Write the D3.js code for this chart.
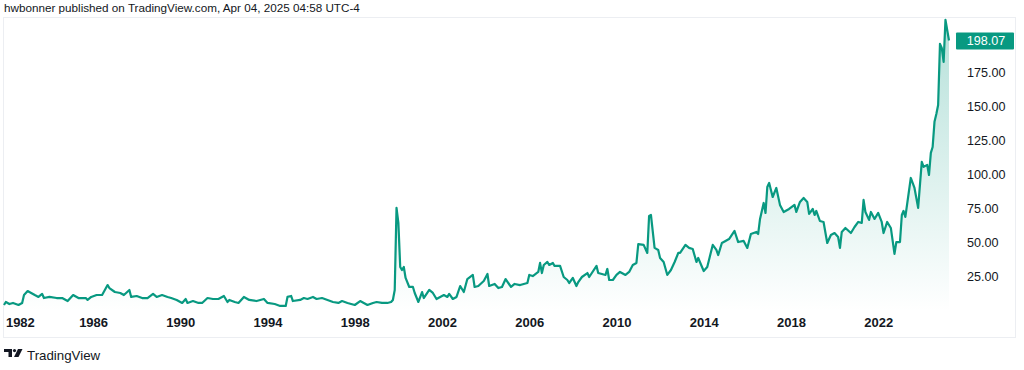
<!DOCTYPE html>
<html lang="en">
<head>
    <meta charset="UTF-8">
    <title>TradingView chart</title>
    <script src="https://d3js.org/d3.v7.min.js"></script>
    <style>
        body { margin: 0; background: #fff; }
        svg { display: block; font-family: "Liberation Sans", Arial, sans-serif; }
        .header { font-size: 11.7px; fill: #131722; }
        .price-axis text { font-size: 12.6px; fill: #131722; }
        .time-axis text { font-size: 13px; font-weight: bold; fill: #131722; }
        .frame { fill: none; stroke: #eceef2; stroke-width: 1px; }
    </style>
</head>
<body>
<svg width="1024" height="370"></svg>
<script>
    // monthly closes
    const months = [
        "1981-12", "1982-01", "1982-03", "1982-05", "1982-08", "1982-10", "1982-11",
        "1983-01", "1983-03", "1983-05", "1983-07", "1983-09", "1983-10",
        "1984-01", "1984-05", "1984-08", "1984-11",
        "1985-02", "1985-05", "1985-09", "1985-10", "1985-12",
        "1986-03", "1986-06", "1986-09", "1986-10",
        "1987-01", "1987-04", "1987-06", "1987-09", "1987-10",
        "1988-01", "1988-04", "1988-07", "1988-10", "1988-12",
        "1989-03", "1989-06", "1989-08", "1989-11",
        "1990-02", "1990-04", "1990-05", "1990-08", "1990-11",
        "1991-01", "1991-04", "1991-07", "1991-10",
        "1992-01", "1992-03", "1992-04", "1992-07", "1992-09", "1992-12",
        "1993-03", "1993-07", "1993-11",
        "1994-01", "1994-05", "1994-08", "1994-11", "1994-12",
        "1995-02", "1995-03", "1995-07", "1995-09", "1995-11",
        "1996-02", "1996-04", "1996-07", "1996-10",
        "1997-01", "1997-04", "1997-06", "1997-09",
        "1998-01", "1998-04", "1998-08", "1998-11",
        "1999-01", "1999-04", "1999-07", "1999-09", "1999-10", "1999-11", "1999-12",
        "2000-01", "2000-02", "2000-03", "2000-04", "2000-05", "2000-07", "2000-09", "2000-10", "2000-12",
        "2001-02", "2001-03", "2001-06", "2001-08", "2001-10", "2001-12",
        "2002-02", "2002-04", "2002-05", "2002-07", "2002-09", "2002-11",
        "2003-01", "2003-03", "2003-06", "2003-07", "2003-09", "2003-12",
        "2004-02", "2004-03", "2004-06", "2004-08", "2004-10", "2004-12",
        "2005-03", "2005-05", "2005-08", "2005-12",
        "2006-01", "2006-03", "2006-06", "2006-07", "2006-08", "2006-09", "2006-11", "2006-12",
        "2007-02", "2007-03", "2007-06", "2007-08", "2007-10", "2007-11",
        "2008-01", "2008-03", "2008-04", "2008-06", "2008-09", "2008-10",
        "2009-02", "2009-03", "2009-07", "2009-08", "2009-09", "2009-11",
        "2010-01", "2010-03", "2010-06", "2010-08", "2010-10", "2010-12",
        "2011-01", "2011-04", "2011-06", "2011-07", "2011-08", "2011-10", "2011-12",
        "2012-01", "2012-03", "2012-05", "2012-07", "2012-09", "2012-11", "2012-12",
        "2013-03", "2013-05", "2013-07", "2013-09", "2013-10",
        "2014-01", "2014-03", "2014-06", "2014-08", "2014-09", "2014-11",
        "2015-01", "2015-03", "2015-06", "2015-08", "2015-11",
        "2016-01", "2016-03", "2016-06", "2016-07", "2016-08", "2016-10", "2016-11", "2016-12",
        "2017-01", "2017-03", "2017-05", "2017-07", "2017-09", "2017-12",
        "2018-03", "2018-04", "2018-06", "2018-08", "2018-10", "2018-11",
        "2019-01", "2019-02", "2019-03", "2019-05", "2019-07", "2019-09", "2019-11",
        "2020-01", "2020-03", "2020-04", "2020-05", "2020-07", "2020-10", "2020-12",
        "2021-02", "2021-04", "2021-05", "2021-06", "2021-08", "2021-09", "2021-11",
        "2022-01", "2022-03", "2022-04", "2022-06", "2022-08", "2022-10", "2022-11",
        "2023-01", "2023-02", "2023-03", "2023-04", "2023-07", "2023-09", "2023-11",
        "2024-01", "2024-02", "2024-04", "2024-05", "2024-06", "2024-07", "2024-08", "2024-09", "2024-10", "2024-11", "2024-12",
        "2025-01", "2025-02", "2025-03", "2025-04"
    ];
    const prices = [
        4.4, 6.6, 5.1, 5.9, 4.4, 5.9, 11.7,
        14.6, 13.2, 11.7, 10.3, 12.5, 9.5,
        10.3, 9.5, 9.5, 7.3,
        11.7, 9.5, 9.5, 8.1, 10.3,
        11.7, 11.7, 19.0, 16.8,
        13.9, 13.2, 11.7, 15.4, 10.3,
        11.0, 9.5, 9.5, 12.5, 10.3,
        11.7, 10.3, 9.5, 8.1,
        5.9, 8.8, 5.9, 7.3, 5.9,
        5.9, 9.5, 8.8, 8.8,
        11.0, 6.6, 8.1, 6.6, 5.9, 10.3,
        8.1, 7.3, 8.8,
        5.9, 5.1, 3.7, 3.7, 10.3,
        11.0, 7.3, 8.1, 9.5, 8.8,
        10.3, 8.8, 9.5, 8.1,
        6.6, 5.9, 7.3, 5.9,
        4.4, 7.3, 4.4, 5.9,
        6.6, 5.9, 5.9, 6.6, 8.1, 15.4, 75.5,
        64.5, 32.2, 30.0, 32.2, 24.2, 17.6, 17.6, 13.2, 6.6,
        13.9, 9.5, 15.4, 13.2, 8.8, 10.3,
        11.7, 10.3, 12.5, 8.8, 10.3, 18.3,
        13.9, 23.4, 26.4, 17.6, 18.3, 22.0,
        27.1, 18.3, 19.8, 16.8, 17.6, 23.4,
        17.6, 19.8, 19.0, 20.5,
        26.4, 25.6, 28.6, 35.2, 27.8, 33.7, 35.9, 33.7,
        35.2, 33.0, 33.0, 24.9, 22.7, 20.5,
        24.2, 18.3, 21.2, 24.9, 27.8, 24.9,
        33.0, 27.8, 26.4, 30.8, 22.7, 22.7,
        26.4, 28.6, 26.4, 28.6, 33.7, 35.2,
        49.0, 48.4, 42.5, 69.6, 70.3, 46.2, 44.7,
        38.8, 35.9, 26.4, 30.0, 35.9, 42.5, 42.5,
        48.4, 46.2, 45.4, 35.9, 38.8,
        29.3, 32.2, 48.4, 44.7, 41.0, 49.8,
        51.3, 52.7, 58.6, 50.5, 51.3,
        46.2, 56.4, 57.9, 56.4, 67.4, 79.1, 71.8, 90.8,
        93.8, 83.5, 90.1, 77.7, 72.5, 74.7,
        77.7, 72.5, 79.9, 82.8, 79.9, 71.1,
        74.7, 70.3, 73.3, 65.9, 65.2, 49.8, 55.7,
        57.1, 54.2, 46.2, 57.9, 60.8, 57.1, 61.5,
        65.2, 64.5, 81.3, 72.5, 66.7, 72.5, 67.4,
        71.8, 65.2, 57.1, 65.2, 60.8, 41.8, 50.5,
        50.5, 70.3, 73.3, 68.9, 97.4, 90.1, 75.5,
        109.2, 105.5, 107.0, 99.6, 115.8, 120.1, 138.5, 144.3, 150.9, 195.6, 192.7,
        182.4, 213.2, 205.9, 198.07
    ];
    const priceTicks = [25, 50, 75, 100, 125, 150, 175];
    const yearTicks = [1982, 1986, 1990, 1994, 1998, 2002, 2006, 2010, 2014, 2018, 2022];
    const lastPrice = 198.07;

    const parseMonth = d3.timeParse("%Y-%m");
    const data = months.map((m, i) => ({ date: parseMonth(m), value: prices[i] }));

    const green = "#089981";
    const plot = { left: 3, right: 950, top: 17, bottom: 312 };

    const svg = d3.select("svg");

    const x = d3.scaleTime()
        .domain(d3.extent(data, d => d.date))
        .range([4, 949]);
    const y = d3.scaleLinear()
        .domain([0, 200])
        .range([311, 311 - 200 * 1.3657]);

    // header
    svg.append("text")
        .attr("class", "header")
        .attr("x", 4)
        .attr("y", 12)
        .text("hwbonner published on TradingView.com, Apr 04, 2025 04:58 UTC-4");

    // frame
    svg.append("rect")
        .attr("class", "frame")
        .attr("x", 3.5)
        .attr("y", 17.5)
        .attr("width", 1012)
        .attr("height", 320);

    const defs = svg.append("defs");
    const grad = defs.append("linearGradient")
        .attr("id", "fill")
        .attr("gradientUnits", "userSpaceOnUse")
        .attr("x1", 0).attr("x2", 0)
        .attr("y1", plot.top).attr("y2", plot.bottom);
    grad.append("stop").attr("offset", 0).attr("stop-color", green).attr("stop-opacity", 0.3);
    grad.append("stop").attr("offset", 1).attr("stop-color", green).attr("stop-opacity", 0.0);

    defs.append("clipPath").attr("id", "clip")
        .append("rect")
        .attr("x", plot.left).attr("y", plot.top)
        .attr("width", plot.right - plot.left)
        .attr("height", plot.bottom - plot.top);

    const g = svg.append("g").attr("clip-path", "url(#clip)");

    const area = d3.area()
        .x(d => x(d.date))
        .y0(plot.bottom)
        .y1(d => y(d.value));

    const line = d3.line()
        .x(d => x(d.date))
        .y(d => y(d.value));

    g.append("path")
        .datum(data)
        .attr("fill", "url(#fill)")
        .attr("d", area);

    g.append("path")
        .datum(data)
        .attr("fill", "none")
        .attr("stroke", green)
        .attr("stroke-width", 2.2)
        .attr("stroke-linejoin", "round")
        .attr("d", line);

    // price axis
    const yAxis = svg.append("g")
        .attr("class", "price-axis")
        .attr("transform", "translate(967,0)")
        .call(d3.axisRight(y).tickValues(priceTicks).tickFormat(d3.format(".2f")).tickSize(0).tickPadding(0));
    yAxis.select(".domain").remove();

    // last price label
    svg.append("rect")
        .attr("x", 956)
        .attr("y", y(lastPrice) - 8)
        .attr("width", 58)
        .attr("height", 17)
        .attr("rx", 1)
        .attr("fill", green);
    svg.append("text")
        .attr("x", 986)
        .attr("y", y(lastPrice) + 0.5)
        .attr("dy", "0.35em")
        .attr("text-anchor", "middle")
        .attr("fill", "#fff")
        .style("font-size", "12.6px")
        .text(d3.format(".2f")(lastPrice));

    // time axis
    const xAxis = svg.append("g")
        .attr("class", "time-axis")
        .attr("transform", "translate(0,318)")
        .call(d3.axisBottom(x)
            .tickValues(yearTicks.map(yr => new Date(yr, 0, 1)))
            .tickFormat(d3.timeFormat("%Y"))
            .tickSize(0).tickPadding(0));
    xAxis.select(".domain").remove();
    // first label is pushed right so it stays inside the frame
    xAxis.selectAll(".tick text").filter(d => d.getFullYear() === 1982).attr("dx", 14);

    // logo
    const logo = svg.append("g").attr("transform", "translate(4,349)").attr("fill", "#131722");
    logo.append("path").attr("d", "M0,0 H8 V8 H4.5 V3 H0 Z");
    logo.append("circle").attr("cx", 10.5).attr("cy", 1.6).attr("r", 1.6);
    logo.append("path").attr("d", "M14,0 H18.5 L14.5,8 H10 Z");
    svg.append("text")
        .attr("x", 27)
        .attr("y", 360)
        .attr("fill", "#131722")
        .style("font-size", "13.3px")
        .text("TradingView");
</script>
</body>
</html>
